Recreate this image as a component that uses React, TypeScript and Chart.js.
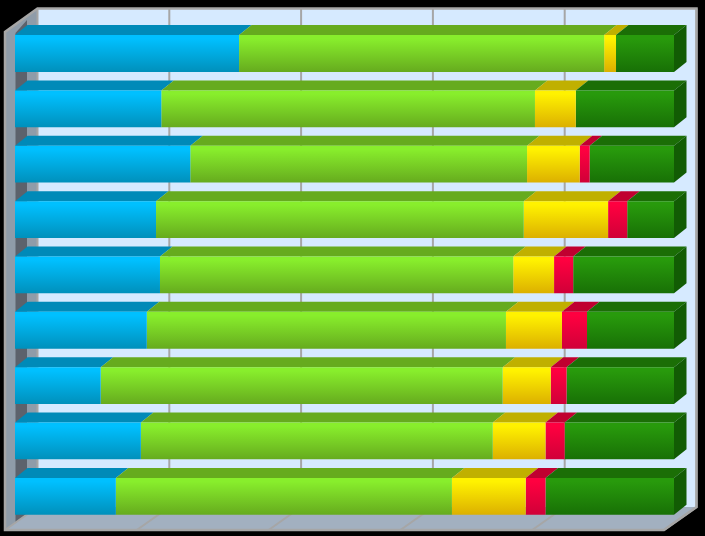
import React, { useEffect, useRef } from "react";
import { Chart, registerables } from "chart.js";

Chart.register(...registerables);

const categories = ["A", "B", "C", "D", "E", "F", "G", "H", "I"];
const blueValues = [34.0, 22.2, 26.6, 21.4, 22.0, 20.0, 13.0, 19.1, 15.3];
const greenValues = [55.4, 56.7, 51.1, 55.8, 53.6, 54.5, 61.0, 53.4, 51.0];
const yellowValues = [1.8, 6.2, 8.0, 12.8, 6.2, 8.5, 7.3, 8.0, 11.2];
const redValues = [0, 0, 1.5, 2.9, 2.9, 3.8, 2.4, 2.9, 3.0];
const darkValues = [8.8, 14.9, 12.8, 7.1, 15.3, 13.2, 16.3, 16.6, 19.5];

const palette = [
  { label: "Blue", values: blueValues, top: "#00c0ff", bottom: "#0090bb", roof: "#008ab8", side: "#006f96" },
  { label: "Green", values: greenValues, top: "#88ee2c", bottom: "#66ab1e", roof: "#66ab1e", side: "#4f8a16" },
  { label: "Yellow", values: yellowValues, top: "#fff200", bottom: "#dcb000", roof: "#c0b000", side: "#a09000" },
  { label: "Red", values: redValues, top: "#ff0040", bottom: "#d00038", roof: "#c00030", side: "#a00028" },
  { label: "Dark", values: darkValues, top: "#289a0c", bottom: "#187006", roof: "#1b6e06", side: "#125c04" },
];

const DX = 12.5;
const DY = -10;

const scenePlugin = {
  id: "scene",
  beforeDatasetsDraw(chart: any) {
    const { ctx, scales } = chart;
    const x = scales.x;
    const backX = (v: number) => x.getPixelForValue(v) + 22.5;
    const frontX = (v: number) => x.getPixelForValue(v) - 10;
    const wallTop = 8.5;
    const wallBottom = 507;
    const floorBottom = 530;
    const leftTop = 32;
    const poly = (pts: number[][], fill: string) => {
      ctx.beginPath();
      pts.forEach((p, i) => (i ? ctx.lineTo(p[0], p[1]) : ctx.moveTo(p[0], p[1])));
      ctx.closePath();
      ctx.fillStyle = fill;
      ctx.fill();
    };
    ctx.save();
    poly([[0, 0], [705, 0], [705, 536], [0, 536]], "#000000");
    // back wall
    poly([[backX(0), wallTop], [backX(100), wallTop], [backX(100), wallBottom], [backX(0), wallBottom]], "#d6eaff");
    // left wall
    poly([[frontX(0), leftTop], [backX(0), wallTop], [backX(0), wallBottom], [frontX(0), floorBottom]], "#8f9ca9");
    // floor
    poly([[backX(0), wallBottom], [backX(100), wallBottom], [frontX(100), floorBottom], [frontX(0), floorBottom]], "#a2b0c0");
    // shaded strip of the left wall
    const x0 = x.getPixelForValue(0);
    poly([[x0 + 0.5, 33], [x0 + 12, 20], [x0 + 12, 514], [x0 + 0.5, 523]], "#5c626c");
    // gridlines
    ctx.strokeStyle = "#a6a6a6";
    ctx.lineWidth = 2;
    for (const t of x.ticks) {
      ctx.beginPath();
      ctx.moveTo(backX(t.value), wallTop);
      ctx.lineTo(backX(t.value), wallBottom);
      ctx.lineTo(frontX(t.value), floorBottom);
      ctx.stroke();
    }
    // edges
    ctx.lineWidth = 2.5;
    ctx.beginPath();
    ctx.moveTo(frontX(0), floorBottom);
    ctx.lineTo(frontX(0), leftTop);
    ctx.lineTo(backX(0), wallTop);
    ctx.lineTo(backX(100), wallTop);
    ctx.lineTo(backX(100), wallBottom);
    ctx.lineTo(frontX(100), floorBottom);
    ctx.closePath();
    ctx.stroke();
    ctx.restore();
    // bar depth faces
    ctx.save();
    categories.forEach((_, row) => {
      const meta0 = chart.getDatasetMeta(0).data[row];
      const half = meta0.height / 2;
      const t = meta0.y - half;
      const b = meta0.y + half;
      let cum = 0;
      palette.forEach((s) => {
        const v = s.values[row];
        const l = x.getPixelForValue(cum);
        cum += v;
        const r = x.getPixelForValue(cum);
        if (v > 0) poly([[l, t], [r, t], [r + DX, t + DY], [l + DX, t + DY]], s.roof);
      });
      const r = x.getPixelForValue(100);
      poly([[r, t], [r + DX, t + DY], [r + DX, b + DY], [r, b]], palette[4].side);
    });
    ctx.restore();
  },
};

export default function App() {
  const ref = useRef<HTMLCanvasElement>(null);
  useEffect(() => {
    document.body.style.margin = "0";
    document.body.style.background = "#000";
    const chart = new Chart(ref.current!, {
      type: "bar",
      data: {
        labels: categories,
        datasets: palette.map((s) => ({
          label: s.label,
          data: s.values,
          borderWidth: 0,
          categoryPercentage: 1,
          barPercentage: 0.665,
          backgroundColor: (c: any) => {
            const ch = c.chart;
            if (!ch.chartArea || !ch.scales.y) return s.top;
            const center = ch.scales.y.getPixelForValue(c.dataIndex);
            const g = ch.ctx.createLinearGradient(0, center - 18.4, 0, center + 18.4);
            g.addColorStop(0, s.top);
            g.addColorStop(0.1, s.top);
            g.addColorStop(1, s.bottom);
            return g;
          },
        })),
      },
      options: {
        indexAxis: "y",
        responsive: false,
        devicePixelRatio: 1,
        animation: false,
        layout: { padding: { left: 15, right: 31, top: 25.8, bottom: 12.0 } },
        plugins: { legend: { display: false }, tooltip: { enabled: false } },
        scales: {
          x: { display: false, stacked: true, min: 0, max: 100, ticks: { stepSize: 20 } },
          y: { display: false, stacked: true },
        },
      } as any,
      plugins: [scenePlugin],
    });
    return () => chart.destroy();
  }, []);
  return (
    <div style={{ position: "absolute", left: 0, top: 0, width: 705, height: 536, background: "#000" }}>
      <canvas ref={ref} width={705} height={536} style={{ display: "block" }} />
    </div>
  );
}
